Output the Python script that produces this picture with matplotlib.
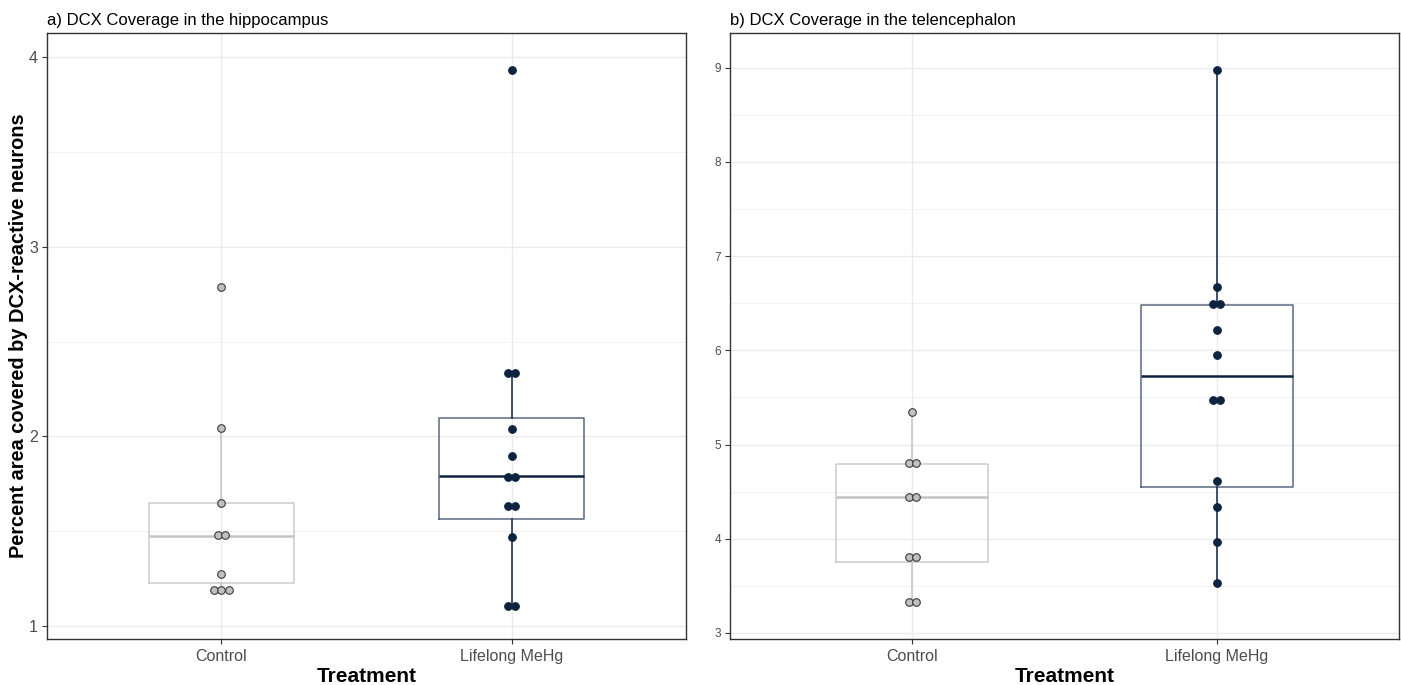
import numpy as np
import matplotlib
matplotlib.use("Agg")
import matplotlib.pyplot as plt
from matplotlib.ticker import MultipleLocator

plt.rcParams['font.family'] = ['Liberation Sans', 'DejaVu Sans']

groups = ["Control", "Lifelong MeHg"]

# a) hippocampus - dot values (binned positions read off the dotplot)
hip_control = [2.785, 2.042, 1.651, 1.482, 1.482, 1.272, 1.189, 1.189, 1.189]
hip_mehg = [3.931, 2.335, 2.335, 2.039, 1.896, 1.788, 1.788, 1.635, 1.635,
            1.471, 1.104, 1.104]
# box stats: whislo, q1, med, q3, whishi
hip_box = [[1.189, 1.228, 1.472, 1.651, 2.042],
           [1.104, 1.563, 1.792, 2.098, 2.335]]

# b) telencephalon
tel_control = [5.347, 4.804, 4.804, 4.446, 4.446, 3.804, 3.804, 3.326, 3.326]
tel_mehg = [8.977, 6.667, 6.490, 6.490, 6.220, 5.946, 5.476, 5.476, 4.615,
            4.337, 3.969, 3.530]
tel_box = [[3.326, 3.751, 4.442, 4.789, 5.347],
           [3.530, 4.548, 5.731, 6.482, 8.977]]

# styling per group
edge_cols = ["#CCCCCC", "#5A6A80"]
whisk_cols = ["#C4C4C4", "#0E2340"]
med_cols = ["#C4C4C4", "#0E2340"]
dot_fill = ["#C0C0C0", "#0E2340"]
dot_edge = ["#3A3A3A", "#0E2340"]

W, H = 1401, 685
fig = plt.figure(figsize=(W / 100, H / 100), dpi=100)
ax1 = fig.add_axes([47 / W, 46 / H, 639 / W, 606 / H])
ax2 = fig.add_axes([730 / W, 46 / H, 669 / W, 606 / H])


def panel(ax, ctrl, mehg, boxes, ylim, title, ytick_size, axw_px):
    ax.set_axisbelow(True)

    for i, b in enumerate(boxes):
        st = dict(whislo=b[0], q1=b[1], med=b[2], q3=b[3], whishi=b[4], fliers=[])
        ax.bxp([st], positions=[i + 1], widths=0.5, showfliers=False,
               showcaps=False, patch_artist=False, manage_ticks=False,
               boxprops=dict(color=edge_cols[i], lw=1.1),
               whiskerprops=dict(color=whisk_cols[i], lw=1.1),
               medianprops=dict(color=med_cols[i], lw=1.8), zorder=2)

    # centred dot stacking, spacing ~7.5 px
    spacing = 7.5 * 2.2 / axw_px
    for i, vals in enumerate([ctrl, mehg]):
        uniq, counts = np.unique(vals, return_counts=True)
        xs, ys = [], []
        for v, k in zip(uniq, counts):
            for j in range(k):
                xs.append(i + 1 + (j - (k - 1) / 2) * spacing)
                ys.append(v)
        ax.scatter(xs, ys, s=30, facecolor=dot_fill[i], edgecolor=dot_edge[i],
                   linewidths=0.8, zorder=3)

    ax.set_xlim(0.4, 2.6)
    ax.set_ylim(*ylim)
    ax.yaxis.set_major_locator(MultipleLocator(1))
    ax.yaxis.set_minor_locator(MultipleLocator(0.5))
    ax.set_xticks([1, 2])
    ax.set_xticklabels(groups)
    ax.grid(which='major', color='#EBEBEB', lw=1.0)
    ax.grid(which='minor', axis='y', color='#F0F0F0', lw=0.6)
    ax.tick_params(which='minor', length=0)
    ax.tick_params(which='major', length=3.5, width=0.8, color='#333333',
                   labelcolor='#4D4D4D')
    ax.tick_params(axis='x', labelsize=11.5, pad=4)
    ax.tick_params(axis='y', labelsize=ytick_size, pad=3)
    for s in ax.spines.values():
        s.set_color('#333333')
        s.set_linewidth(1.0)

    ax.set_xlabel("Treatment", fontsize=15, fontweight='bold', labelpad=2)
    ax.set_title(title, loc='left', fontsize=12, pad=6)


panel(ax1, hip_control, hip_mehg, hip_box, (0.9315, 4.1265),
      "a) DCX Coverage in the hippocampus", 11.5, 639)
panel(ax2, tel_control, tel_mehg, tel_box, (2.936, 9.368),
      "b) DCX Coverage in the telencephalon", 8.5, 669)

ax1.set_ylabel("Percent area covered by DCX-reactive neurons", fontsize=14.4,
               fontweight='bold', labelpad=1)

fig.savefig("out.png", dpi=100)
